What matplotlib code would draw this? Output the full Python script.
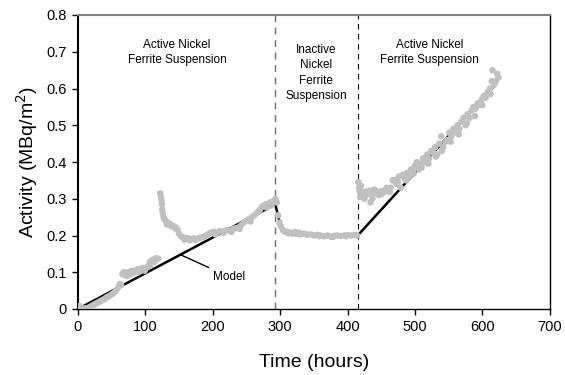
import matplotlib.pyplot as plt

plt.rcParams['font.family'] = ['Liberation Sans', 'DejaVu Sans']

# measured activity (grey dots)
time_h = [2, 4, 6, 8, 10, 12, 15, 18, 21, 24, 27, 30, 33, 36, 39, 42, 45, 48, 51, 54, 57, 60,
          62, 64, 66, 68, 70, 72, 75, 78, 80, 83, 86, 88, 91, 94, 97, 100, 103, 106, 108, 110, 113, 116, 119,
          73, 82, 90, 99, 107, 114,
          122, 123, 124, 124.5, 125, 126, 127, 128, 130, 133, 136, 139, 142, 145, 148, 150, 153, 156, 160,
          164, 168, 172, 176, 180, 184, 188, 132, 138, 144, 158, 166, 174,
          190, 194, 198, 202, 206, 210, 214, 218, 222, 226, 230, 234, 238, 242, 246, 250, 254, 258, 262,
          266, 270, 273, 276, 279, 282, 285, 288, 291, 293, 204, 216, 228, 240, 256, 268, 280, 287,
          295, 297, 299, 301, 304, 307, 310, 314, 318, 322, 326, 330, 335, 340, 345, 350, 355, 360, 365,
          370, 375, 380, 385, 390, 395, 400, 405, 410, 414, 312, 328, 338, 358, 378, 398,
          416, 417, 418, 420, 422, 425, 428, 431, 434, 437, 440, 443, 446, 449, 452, 455, 458, 461, 464, 467,
          419, 424, 427, 433, 436, 441, 445, 450, 454, 459, 463,
          470, 473, 476, 479, 482, 485, 488, 491, 494, 497, 500, 503, 506, 509, 512, 515, 518, 521, 524, 527,
          530, 533, 536, 539, 542, 545, 548, 551, 554, 557, 560, 563, 566, 569, 572, 575, 578, 581, 584, 587,
          590, 593, 596, 599, 602, 605, 608, 611, 614, 615, 617, 620, 622, 624,
          475, 487, 498, 510, 520, 531, 540, 553, 565, 577, 589, 600, 612]
activity = [0.008, 0.004, 0.001, 0.000, 0.001, 0.002, 0.003, 0.006, 0.009, 0.012, 0.015, 0.018, 0.021, 0.024,
            0.027, 0.031, 0.034, 0.037, 0.041, 0.045, 0.051, 0.060,
            0.068, 0.066, 0.095, 0.100, 0.092, 0.098, 0.100, 0.095, 0.104, 0.100, 0.105, 0.108, 0.104, 0.110,
            0.112, 0.110, 0.115, 0.125, 0.130, 0.133, 0.136, 0.138, 0.137,
            0.090, 0.098, 0.100, 0.104, 0.118, 0.128,
            0.315, 0.305, 0.295, 0.285, 0.270, 0.260, 0.250, 0.245, 0.240, 0.235, 0.232, 0.228, 0.225, 0.222,
            0.215, 0.205, 0.198, 0.195, 0.193, 0.192, 0.190, 0.192, 0.190, 0.193, 0.195, 0.197,
            0.230, 0.226, 0.220, 0.188, 0.187, 0.188,
            0.200, 0.205, 0.208, 0.210, 0.207, 0.212, 0.210, 0.213, 0.215, 0.212, 0.218, 0.220, 0.222, 0.228,
            0.235, 0.240, 0.245, 0.250, 0.255, 0.262, 0.270, 0.278, 0.282, 0.285, 0.280, 0.290, 0.288, 0.295,
            0.300, 0.203, 0.207, 0.210, 0.218, 0.238, 0.265, 0.276, 0.282,
            0.290, 0.255, 0.235, 0.225, 0.215, 0.210, 0.210, 0.208, 0.205, 0.210, 0.205, 0.203, 0.205, 0.202,
            0.203, 0.200, 0.202, 0.200, 0.198, 0.200, 0.197, 0.199, 0.200, 0.199, 0.200, 0.201, 0.200, 0.201,
            0.200, 0.206, 0.208, 0.204, 0.198, 0.196, 0.198,
            0.345, 0.330, 0.320, 0.335, 0.310, 0.300, 0.320, 0.315, 0.290, 0.300, 0.325, 0.320, 0.310, 0.320,
            0.315, 0.320, 0.330, 0.320, 0.330, 0.350,
            0.305, 0.318, 0.310, 0.322, 0.310, 0.315, 0.318, 0.312, 0.322, 0.325, 0.318,
            0.350, 0.340, 0.360, 0.330, 0.365, 0.355, 0.370, 0.360, 0.380, 0.375, 0.390, 0.400, 0.380, 0.395,
            0.410, 0.400, 0.420, 0.410, 0.430, 0.425, 0.440, 0.420, 0.450, 0.470, 0.440, 0.455, 0.460, 0.480,
            0.470, 0.490, 0.480, 0.500, 0.490, 0.510, 0.520, 0.500, 0.530, 0.520, 0.540, 0.550, 0.545, 0.560,
            0.555, 0.570, 0.580, 0.575, 0.590, 0.600, 0.620, 0.650, 0.610, 0.620, 0.640, 0.630,
            0.345, 0.350, 0.368, 0.385, 0.395, 0.415, 0.430, 0.455, 0.475, 0.505, 0.525, 0.555, 0.585]

# model curve
model_t = [0, 293, 295, 298, 301, 305, 310, 320, 340, 415, 620]
model_a = [0.0, 0.285, 0.268, 0.245, 0.228, 0.215, 0.207, 0.202, 0.200, 0.200, 0.612]

switch_times = [293, 415]

fig = plt.figure(figsize=(5.65, 3.75), dpi=100)
ax = fig.add_axes([0.138, 0.176, 0.835, 0.784])

ax.plot(model_t, model_a, color='black', lw=1.8, zorder=4 - 2)
ax.scatter(time_h, activity, s=22, color='#c0c0c0', edgecolors='none', zorder=3)

ax.axvline(switch_times[0], color='#707070', lw=1, ls=(0, (5, 4)), zorder=1)
ax.axvline(switch_times[1], color='black', lw=0.8, ls=(0, (5, 4)), zorder=1)

ax.set_xlim(0, 700)
ax.set_ylim(0, 0.8)
ax.set_xticks(range(0, 701, 100))
ax.set_yticks([0, 0.1, 0.2, 0.3, 0.4, 0.5, 0.6, 0.7, 0.8])
ax.set_yticklabels(['0', '0.1', '0.2', '0.3', '0.4', '0.5', '0.6', '0.7', '0.8'])
ax.tick_params(direction='out', length=4, width=1, labelsize=10.5, pad=4)

ax.spines['top'].set_color('#808080')
ax.spines['top'].set_linewidth(1.5)
ax.spines['left'].set_linewidth(1.5)
ax.spines['bottom'].set_linewidth(1)
ax.spines['right'].set_linewidth(1)

ax.set_xlabel('Time (hours)', fontsize=14, labelpad=14)
ax.set_ylabel('Activity (MBq/m$^2$)', fontsize=14, labelpad=5)

ax.text(147, 0.698, 'Active Nickel\nFerrite Suspension', ha='center', va='center', fontsize=8.5,
        linespacing=1.35)
ax.text(353, 0.642, 'Inactive\nNickel\nFerrite\nSuspension', ha='center', va='center', fontsize=8.5,
        linespacing=1.35)
ax.text(522, 0.698, 'Active Nickel\nFerrite Suspension', ha='center', va='center', fontsize=8.5,
        linespacing=1.35)

ax.annotate('Model', xy=(153, 0.147), xytext=(200, 0.088), fontsize=8.5, va='center', ha='left',
            arrowprops=dict(arrowstyle='-', color='black', lw=1, shrinkA=1, shrinkB=0))

fig.savefig('out.png', dpi=100)
